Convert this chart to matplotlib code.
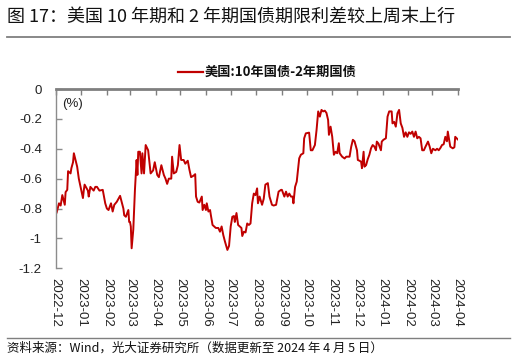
import matplotlib
matplotlib.use("Agg")
import matplotlib.pyplot as plt
import matplotlib.dates as mdates
import pandas as pd
from matplotlib.lines import Line2D

dates = [
    "2022-12-01","2022-12-02","2022-12-05","2022-12-07","2022-12-09","2022-12-12","2022-12-13",
    "2022-12-15","2022-12-16","2022-12-19","2022-12-20","2022-12-22","2022-12-23","2022-12-27",
    "2022-12-29","2023-01-03","2023-01-04","2023-01-05","2023-01-09","2023-01-10","2023-01-12",
    "2023-01-16","2023-01-18","2023-01-20","2023-01-23","2023-01-27","2023-01-30","2023-02-01",
    "2023-02-03","2023-02-06","2023-02-08","2023-02-10","2023-02-13","2023-02-17","2023-02-21",
    "2023-02-22","2023-02-24","2023-02-27","2023-02-28","2023-03-01","2023-03-02","2023-03-03",
    "2023-03-05","2023-03-07","2023-03-09","2023-03-10","2023-03-11","2023-03-13","2023-03-15",
    "2023-03-16","2023-03-18","2023-03-20","2023-03-23","2023-03-26","2023-03-29","2023-03-31",
    "2023-04-03","2023-04-05","2023-04-08","2023-04-11","2023-04-13","2023-04-15","2023-04-17",
    "2023-04-20","2023-04-21","2023-04-23","2023-04-26","2023-04-28","2023-04-30","2023-05-02",
    "2023-05-05","2023-05-07","2023-05-10","2023-05-12","2023-05-14","2023-05-17","2023-05-19",
    "2023-05-20","2023-05-22","2023-05-24","2023-05-27","2023-05-28","2023-05-30","2023-06-01",
    "2023-06-02","2023-06-04","2023-06-06","2023-06-07","2023-06-09","2023-06-13","2023-06-16",
    "2023-06-18","2023-06-20","2023-06-22","2023-06-24","2023-06-27","2023-06-29","2023-07-01",
    "2023-07-03","2023-07-05","2023-07-06","2023-07-08","2023-07-10","2023-07-12","2023-07-14",
    "2023-07-15","2023-07-17","2023-07-19","2023-07-21","2023-07-23","2023-07-25","2023-07-27",
    "2023-07-29","2023-07-31","2023-08-02","2023-08-03","2023-08-05","2023-08-08","2023-08-10",
    "2023-08-12","2023-08-15","2023-08-17","2023-08-20","2023-08-22","2023-08-25","2023-08-28",
    "2023-08-31","2023-09-01","2023-09-04","2023-09-06","2023-09-08","2023-09-10","2023-09-12",
    "2023-09-14","2023-09-15","2023-09-17","2023-09-19","2023-09-21","2023-09-22","2023-09-24",
    "2023-09-27","2023-09-28","2023-09-30","2023-10-04","2023-10-06","2023-10-08","2023-10-11",
    "2023-10-13","2023-10-15","2023-10-17","2023-10-19","2023-10-21","2023-10-23","2023-10-25",
    "2023-10-27","2023-10-28","2023-10-30","2023-11-01","2023-11-03","2023-11-05","2023-11-07",
    "2023-11-09","2023-11-10","2023-11-13","2023-11-16","2023-11-18","2023-11-22","2023-11-24",
    "2023-11-26","2023-11-28","2023-12-01","2023-12-02","2023-12-04","2023-12-06","2023-12-07",
    "2023-12-09","2023-12-10","2023-12-12","2023-12-14","2023-12-16","2023-12-18","2023-12-20",
    "2023-12-22","2023-12-24","2023-12-25","2023-12-27","2023-12-30","2023-12-31","2024-01-02",
    "2024-01-05","2024-01-07","2024-01-09","2024-01-12","2024-01-13","2024-01-15","2024-01-17",
    "2024-01-19","2024-01-21","2024-01-23","2024-01-25","2024-01-27","2024-01-29","2024-01-31",
    "2024-02-02","2024-02-04","2024-02-06","2024-02-08","2024-02-10","2024-02-12","2024-02-14",
    "2024-02-16","2024-02-18","2024-02-20","2024-02-22","2024-02-25","2024-02-27","2024-02-29",
    "2024-03-02","2024-03-05","2024-03-07","2024-03-09","2024-03-11","2024-03-13","2024-03-15",
    "2024-03-17","2024-03-19","2024-03-20","2024-03-22","2024-03-23","2024-03-26","2024-03-28",
    "2024-03-29","2024-04-01",
]
spread = [
    -0.80,-0.83,-0.765,-0.78,-0.71,-0.775,-0.69,
    -0.675,-0.55,-0.565,-0.53,-0.49,-0.43,-0.52,
    -0.60,-0.73,-0.68,-0.64,-0.68,-0.72,-0.655,
    -0.68,-0.655,-0.655,-0.68,-0.675,-0.765,-0.80,
    -0.81,-0.765,-0.82,-0.775,-0.755,-0.715,-0.80,
    -0.845,-0.855,-0.81,-0.89,-0.89,-0.92,-1.066,
    -0.94,-0.675,-0.475,-0.575,-0.42,-0.42,-0.565,
    -0.43,-0.565,-0.375,-0.41,-0.565,-0.545,-0.49,
    -0.575,-0.59,-0.51,-0.575,-0.60,-0.635,-0.60,
    -0.60,-0.453,-0.565,-0.555,-0.51,-0.375,-0.475,
    -0.475,-0.50,-0.48,-0.54,-0.59,-0.58,-0.57,
    -0.72,-0.755,-0.76,-0.72,-0.81,-0.775,-0.81,
    -0.765,-0.82,-0.81,-0.845,-0.91,-0.93,-0.93,
    -0.955,-0.92,-0.977,-1.02,-1.077,-1.05,-0.92,
    -0.855,-0.85,-0.89,-0.83,-0.91,-0.92,-0.93,
    -0.984,-0.955,-0.96,-0.90,-0.91,-0.90,-0.765,
    -0.70,-0.71,-0.665,-0.765,-0.72,-0.775,-0.735,
    -0.64,-0.63,-0.72,-0.775,-0.78,-0.775,-0.687,
    -0.675,-0.675,-0.72,-0.687,-0.72,-0.70,-0.72,
    -0.72,-0.765,-0.655,-0.62,-0.52,-0.464,-0.44,
    -0.43,-0.33,-0.297,-0.292,-0.41,-0.41,-0.375,
    -0.275,-0.15,-0.185,-0.14,-0.15,-0.145,-0.16,
    -0.207,-0.307,-0.252,-0.32,-0.44,-0.42,-0.43,
    -0.363,-0.43,-0.453,-0.465,-0.453,-0.453,-0.386,
    -0.34,-0.35,-0.41,-0.475,-0.48,-0.487,-0.53,
    -0.42,-0.52,-0.51,-0.47,-0.44,-0.397,-0.375,
    -0.385,-0.41,-0.352,-0.365,-0.41,-0.352,-0.34,
    -0.33,-0.185,-0.15,-0.15,-0.23,-0.22,-0.252,
    -0.163,-0.14,-0.23,-0.26,-0.32,-0.29,-0.32,
    -0.29,-0.30,-0.285,-0.32,-0.285,-0.33,-0.32,
    -0.33,-0.41,-0.41,-0.386,-0.352,-0.385,-0.43,
    -0.40,-0.41,-0.40,-0.41,-0.395,-0.375,-0.37,
    -0.32,-0.35,-0.285,-0.35,-0.386,-0.397,-0.39,
    -0.32,-0.337,
]
yticks = [0, -0.2, -0.4, -0.6, -0.8, -1.0, -1.2]
ytick_labels = ["0", "-0.2", "-0.4", "-0.6", "-0.8", "-1", "-1.2"]
xtick_months = pd.date_range("2022-12-01", "2024-04-01", freq="MS")

title = "图 17：美国 10 年期和 2 年期国债期限利差较上周末上行"
legend_label = "美国:10年国债-2年期国债"
source = "资料来源：Wind，光大证券研究所（数据更新至 2024 年 4 月 5 日）"

CJK = ["Noto Sans CJK SC", "DejaVu Sans"]
LAT = ["Liberation Sans", "Noto Sans CJK SC"]
plt.rcParams["font.family"] = CJK

W, H = 516, 358
fig = plt.figure(figsize=(W / 100, H / 100), dpi=100)
ax = fig.add_axes([55.7 / W, 1 - 268.3 / H, (457.7 - 55.7) / W, (268.3 - 89) / H])

x = pd.to_datetime(dates)
ax.plot(x, spread, color="#C00000", lw=1.4, solid_joinstyle="round")

ax.set_xlim(pd.Timestamp("2022-12-01"), pd.Timestamp("2024-04-01"))
ax.set_ylim(-1.2, 0)
ax.set_yticks(yticks)
ax.set_yticklabels(ytick_labels, family=LAT, fontsize=9.5, color="#222222")
ax.set_xticks(xtick_months)
ax.set_xticklabels([d.strftime("%Y-%m") for d in xtick_months], rotation=270,
                   family=LAT, fontsize=9.5, color="#222222", va="top", ha="center")

ax.tick_params(axis="x", which="both", bottom=False, top=True, labelbottom=True,
               labeltop=False, direction="in", length=4, width=1, color="#7f7f7f", pad=7)
ax.tick_params(axis="y", direction="in", length=4, width=1, color="#8c8c8c", pad=10)
ax.xaxis.set_minor_locator(mdates.DayLocator(bymonthday=[32]))

for s in ["right", "bottom"]:
    ax.spines[s].set_visible(False)
ax.spines["top"].set_color("#7f7f7f")
ax.spines["top"].set_linewidth(2)
ax.spines["left"].set_color("#8c8c8c")
ax.spines["left"].set_linewidth(1)

ax.text(62 / W * W, 0, "", transform=ax.transAxes)
fig.text(62 / W, 1 - 104 / H, "(%)", family=LAT, fontsize=9.5, color="#222222",
         va="center", ha="left")

# title and rules
fig.text(7 / W, 1 - 17 / H, title, fontsize=13, color="#111111", va="center", ha="left")
fig.add_artist(Line2D([7 / W, 510 / W], [1 - 37 / H, 1 - 37 / H], color="#7f7f7f", lw=1.3))
fig.add_artist(Line2D([7 / W, 510 / W], [1 - 337.5 / H, 1 - 337.5 / H], color="#7f7f7f", lw=1.0))
fig.text(7 / W, 1 - 348 / H, source, fontsize=9, color="#111111", va="center", ha="left")

# legend
fig.add_artist(Line2D([178 / W, 203 / W], [1 - 72 / H, 1 - 72 / H], color="#C00000", lw=1.6))
fig.text(205 / W, 1 - 72 / H, legend_label, fontsize=9.5, fontweight="bold",
         color="#111111", va="center", ha="left")

fig.savefig("out.png", dpi=100)
